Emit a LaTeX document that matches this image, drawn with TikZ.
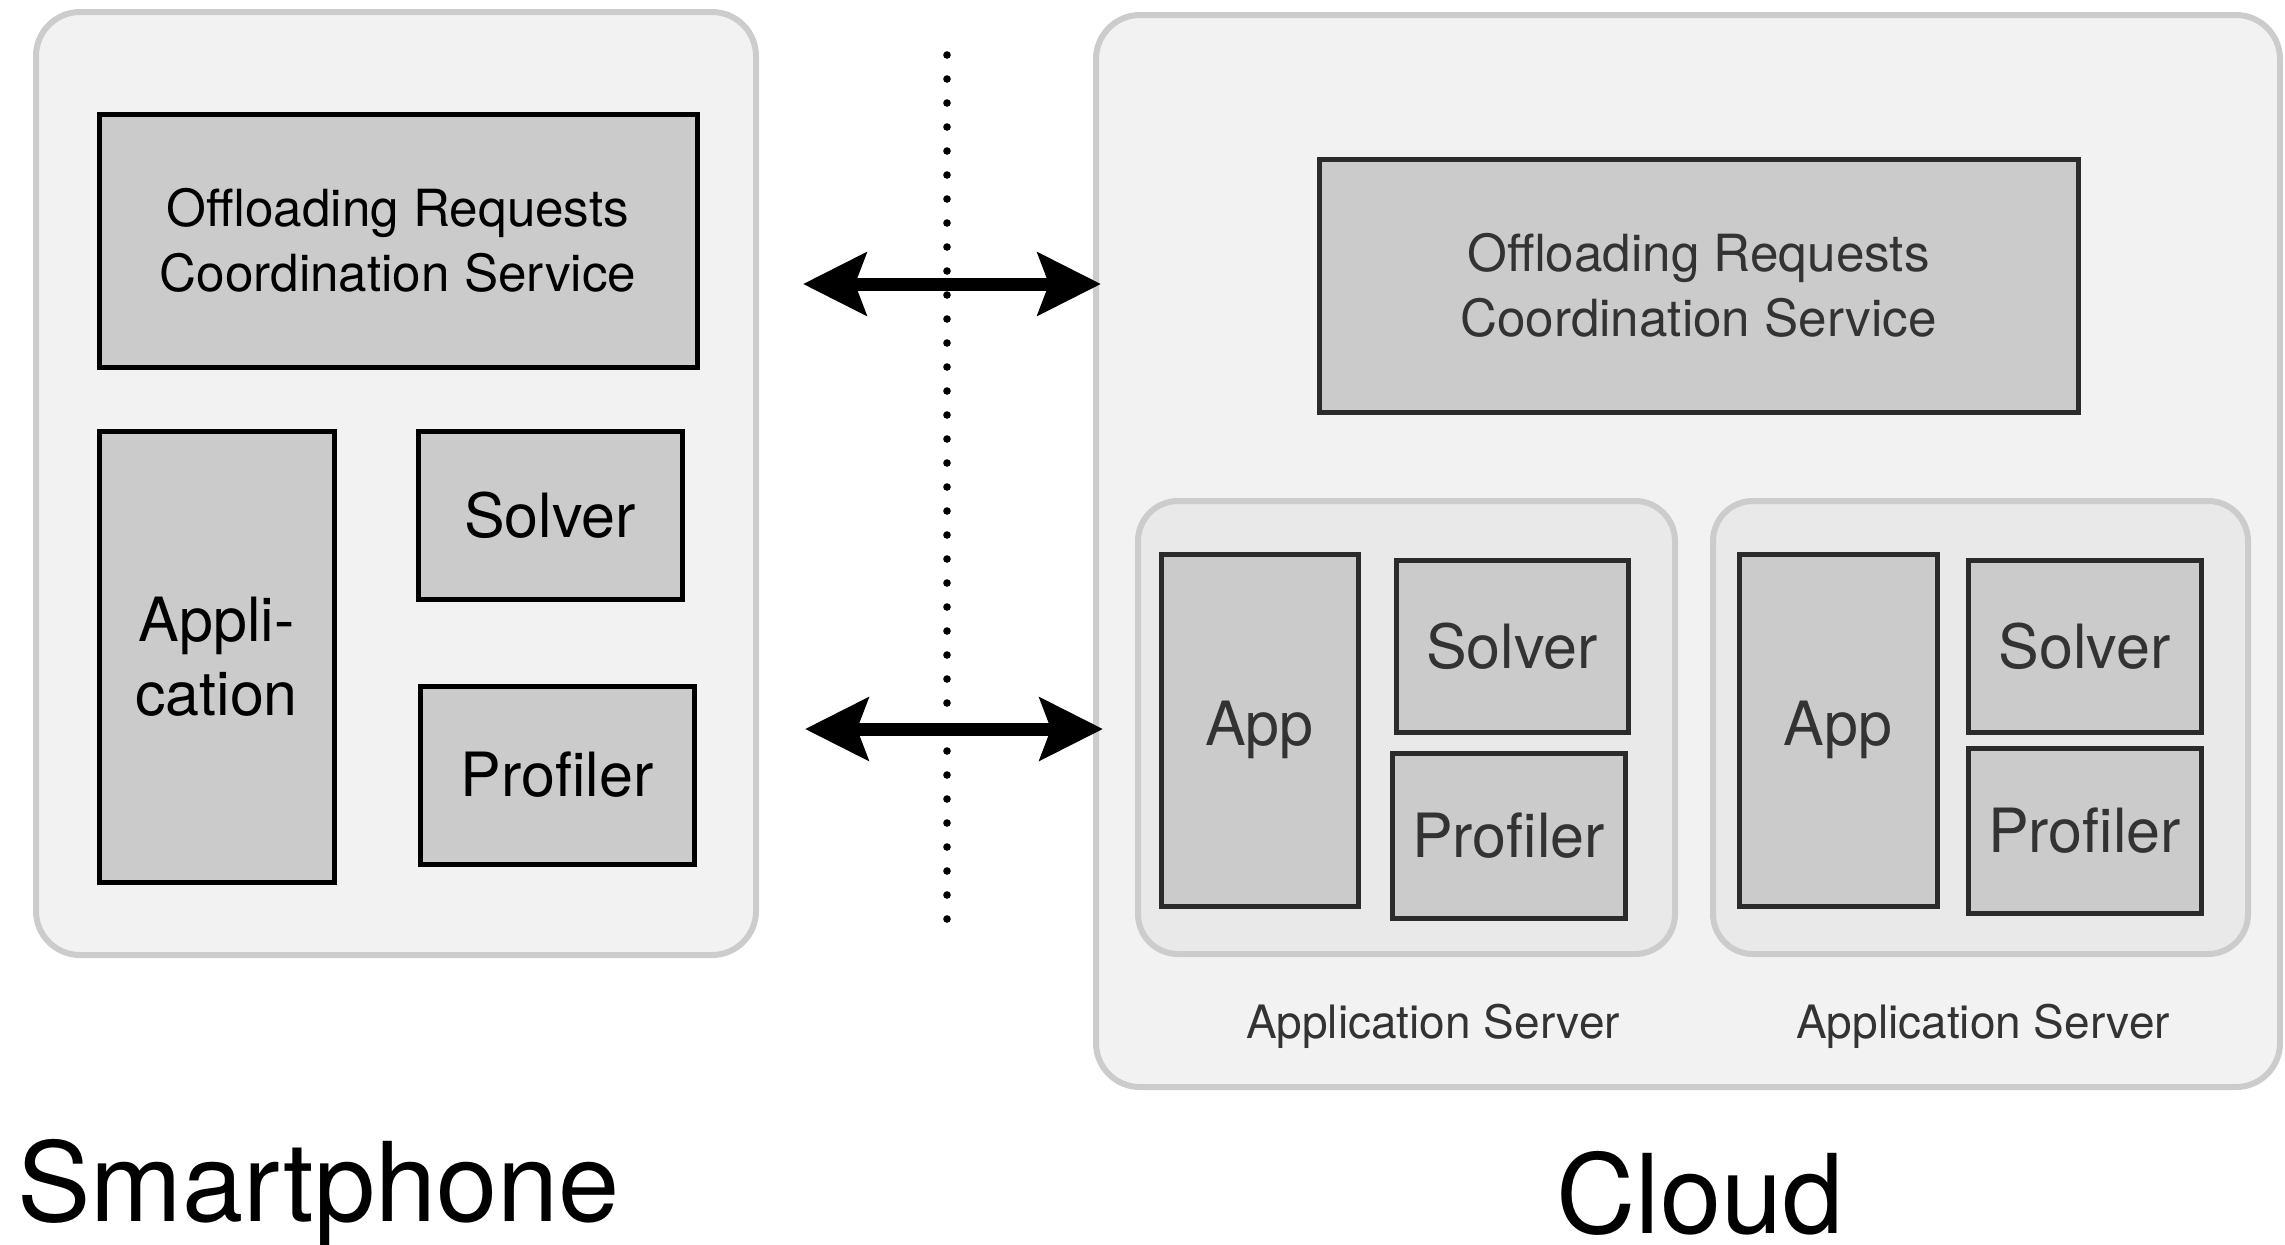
\documentclass[tikz,border=0pt]{standalone}
\usepackage{fontspec}
\setmainfont{TeX Gyre Heros}
\usetikzlibrary{arrows.meta}
\definecolor{outerfill}{HTML}{F2F2F2}
\definecolor{outerdraw}{HTML}{CCCCCC}
\definecolor{srvfill}{HTML}{E9E9E9}
\definecolor{boxfill}{HTML}{CBCBCB}
\definecolor{darkline}{HTML}{2B2B2B}
\definecolor{darktext}{HTML}{333333}
\tikzset{
  phonebox/.style={draw=outerdraw, fill=outerfill, line width=3pt, rounded corners=22pt, inner sep=0pt},
  srvbox/.style={draw=outerdraw, fill=srvfill, line width=3pt, rounded corners=20pt, inner sep=0pt},
  lbox/.style={draw=black, fill=boxfill, line width=2.5pt, inner sep=0pt, align=center, text=black},
  rbox/.style={lbox, draw=darkline, text=darktext},
  orcsfont/.style={font=\fontsize{25.6}{32.5}\selectfont},
  compfont/.style={font=\fontsize{30.5}{37}\selectfont},
  biga/.style={line width=6.5pt, {Stealth[length=31.5pt,width=31pt,inset=5.5pt]}-{Stealth[length=31.5pt,width=31pt,inset=5.5pt]}},
  dotline/.style={line width=3.8pt, line cap=round, dash pattern=on 0pt off 12pt},
  bigfont/.style={font=\fontsize{55}{60}\selectfont, inner sep=0pt},
  srvlabel/.style={font=\fontsize{23}{27}\selectfont, text=darktext, inner sep=0pt}
}
\begin{document}
\begin{tikzpicture}[x=0.5pt,y=-0.5pt]
\useasboundingbox (0,0) rectangle (2285,1244);
% Smartphone side
\node[phonebox, minimum width=360pt, minimum height=471.5pt] (phone) at (396,483.5) {};
\node[lbox, orcsfont, minimum width=299pt, minimum height=126.5pt] (orcsL) at (398,240.5) {Offloading Requests\\Coordination Service};
\node[lbox, compfont, minimum width=117.5pt, minimum height=225.5pt] (appL) at (216.5,656.5) {Appli-\\cation};
\node[lbox, compfont, minimum width=132pt, minimum height=84pt] (solverL) at (550,515) {Solver};
\node[lbox, compfont, minimum width=137pt, minimum height=89pt] (profL) at (557,775) {Profiler};
% Cloud side
\node[phonebox, minimum width=592pt, minimum height=536pt] (cloud) at (1688,551) {};
\node[rbox, orcsfont, minimum width=379.5pt, minimum height=126.5pt] (orcsR) at (1698.5,285.5) {Offloading Requests\\Coordination Service};
\node[srvbox, minimum width=268.5pt, minimum height=226.5pt] (as1) at (1406.5,727.5) {};
\node[srvbox, minimum width=267.5pt, minimum height=226.5pt] (as2) at (1980.5,727.5) {};
\node[rbox, compfont, minimum width=98.5pt, minimum height=176pt] (app1) at (1259.5,730) {App};
\node[rbox, compfont, minimum width=116pt, minimum height=86pt] (solver1) at (1512,646) {Solver};
\node[rbox, compfont, minimum width=116.5pt, minimum height=82.5pt] (prof1) at (1508.5,835.5) {Profiler};
\node[rbox, compfont, minimum width=99pt, minimum height=176pt] (app2) at (1838,730) {App};
\node[rbox, compfont, minimum width=116.5pt, minimum height=86pt] (solver2) at (2084.5,646) {Solver};
\node[rbox, compfont, minimum width=116.5pt, minimum height=82.5pt] (prof2) at (2084.5,830.5) {Profiler};
\node[srvlabel, anchor=base] (as1lbl) at (1433,1038) {Application Server};
\node[srvlabel, anchor=base] (as2lbl) at (1983,1038) {Application Server};
% dotted separator
\coordinate (dtop) at (947,55);
\coordinate (dbot) at (947,927);
\draw[dotline] (dtop) -- (dbot);
% arrows
\coordinate (a1l) at (803,284);
\coordinate (a1r) at (1101,284);
\coordinate (a2l) at (805,729);
\coordinate (a2r) at (1103,729);
\draw[biga] (a1l) -- (a1r);
\draw[biga] (a2l) -- (a2r);
% titles
\node[bigfont, anchor=base west] (smart) at (17,1221) {Smartphone};
\node[bigfont, anchor=base west] (cloudlbl) at (1556,1233) {Cloud};
\end{tikzpicture}
\end{document}
